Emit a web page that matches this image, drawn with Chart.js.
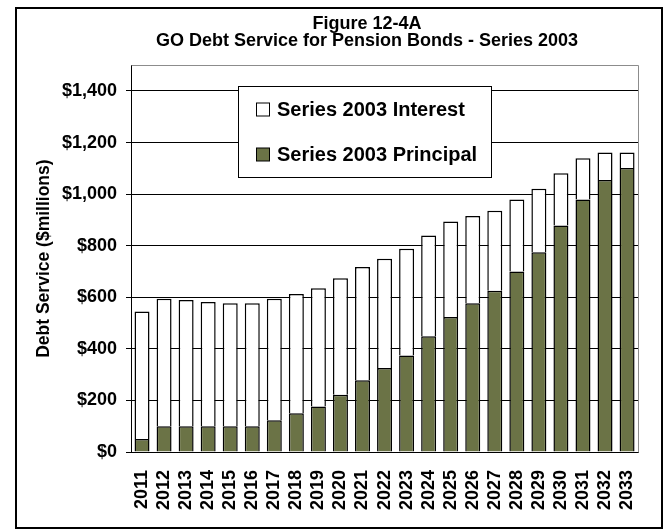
<!DOCTYPE html>
<html>
<head>
<meta charset="utf-8">
<script src="https://cdn.jsdelivr.net/npm/chart.js@4/dist/chart.umd.min.js"></script>
<style>
  html, body { margin: 0; padding: 0; background: #fff; }
  #wrap { width: 667px; height: 529px; position: relative; }
</style>
</head>
<body>
<div id="wrap"><canvas id="c" width="667" height="529"></canvas></div>
<script>
const years = ['2011','2012','2013','2014','2015','2016','2017','2018','2019','2020','2021','2022','2023','2024','2025','2026','2027','2028','2029','2030','2031','2032','2033'];
const principal = [50,100,100,100,100,100,123,150,176,222,278,326,374,449,524,577,625,700,775,878,979,1055,1101];
const interest = [495,494,489,482,477,477,471,463,459,452,439,423,414,391,370,338,311,279,246,203,160,106,60];
const yTickLabels = ['$0','$200','$400','$600','$800','$1,000','$1,200','$1,400'];
const titleLines = ['Figure 12-4A', 'GO Debt Service for Pension Bonds - Series 2003'];
const yAxisTitle = 'Debt Service ($millions)';
const seriesNames = ['Series 2003 Principal', 'Series 2003 Interest'];

const FONT = "'Liberation Sans', Arial, sans-serif";
const OLIVE = '#6b7346';

const framePlugin = {
  id: 'frame',
  beforeDraw(chart) {
    const ctx = chart.ctx;
    ctx.save();
    ctx.fillStyle = '#fff';
    ctx.fillRect(0, 0, chart.width, chart.height);
    ctx.restore();
  },
  afterLayout(chart) {
    const t = chart.titleBlock;
    if (t) { t.left = 72; t.right = 662; t.width = t.right - t.left; }
  },
  beforeDatasetsDraw(chart) {
    const ctx = chart.ctx, a = chart.chartArea;
    ctx.save();
    ctx.strokeStyle = '#8c8c8c';
    ctx.lineWidth = 1;
    ctx.beginPath();
    ctx.moveTo(Math.round(a.left) + 0.5, Math.round(a.top) + 0.5);
    ctx.lineTo(Math.round(a.right) + 0.5, Math.round(a.top) + 0.5);
    ctx.lineTo(Math.round(a.right) + 0.5, Math.round(a.bottom) + 0.5);
    ctx.stroke();
    ctx.restore();
  },
  afterDraw(chart) {
    const ctx = chart.ctx;
    ctx.save();
    // outer chart border
    ctx.strokeStyle = '#000';
    ctx.lineWidth = 2;
    ctx.strokeRect(16, 8, 646, 520);
    // legend box
    const lx = 238.5, ly = 86.5, lw = 253, lh = 91;
    ctx.fillStyle = '#fff';
    ctx.fillRect(lx, ly, lw, lh);
    ctx.lineWidth = 1;
    ctx.strokeRect(lx, ly, lw, lh);
    const ds = chart.data.datasets;
    const items = [ds[1], ds[0]];
    const rows = [109.5, 154.5];
    ctx.font = "bold 20px " + FONT;
    ctx.textBaseline = 'middle';
    ctx.textAlign = 'left';
    items.forEach((d, i) => {
      const cy = rows[i];
      ctx.fillStyle = d.backgroundColor;
      ctx.fillRect(256.5, cy - 6.5, 13, 13);
      ctx.strokeStyle = '#000';
      ctx.lineWidth = 1;
      ctx.strokeRect(256.5, cy - 6.5, 13, 13);
      ctx.fillStyle = '#000';
      ctx.fillText(d.label, 277, cy + 1);
    });
    ctx.restore();
  }
};

new Chart(document.getElementById('c'), {
  type: 'bar',
  data: {
    labels: years,
    datasets: [
      { label: seriesNames[0], data: principal, backgroundColor: OLIVE, borderColor: '#000', borderWidth: 1.5, barPercentage: 0.68, categoryPercentage: 1.0 },
      { label: seriesNames[1], data: interest, backgroundColor: '#ffffff', borderColor: '#000', borderWidth: 1.5, barPercentage: 0.68, categoryPercentage: 1.0 }
    ]
  },
  options: {
    responsive: false,
    animation: false,
    devicePixelRatio: 1,
    layout: { padding: { left: 0, right: 15, top: 0, bottom: 0 } },
    plugins: {
      legend: { display: false },
      tooltip: { enabled: false },
      title: {
        display: true,
        text: titleLines,
        color: '#000',
        font: { family: FONT, size: 18, weight: 'bold', lineHeight: 0.95 },
        padding: { top: 15.5, bottom: 15.5 }
      }
    },
    scales: {
      x: {
        stacked: true,
        grid: { display: false, drawTicks: false },
        border: { display: true, color: '#000', width: 1 },
        ticks: {
          color: '#000', minRotation: 90, maxRotation: 90, autoSkip: false, padding: 18,
          font: { family: FONT, size: 18, weight: 'bold' }
        },
        afterFit(scale) { scale.height = 77; }
      },
      y: {
        stacked: true,
        min: 0, max: 1500,
        grid: { color: '#000', lineWidth: 1, tickLength: 5, drawTicks: true },
        border: { display: true, color: '#000', width: 1 },
        ticks: {
          stepSize: 200, includeBounds: false, color: '#000', padding: 9,
          font: { family: FONT, size: 18, weight: 'bold' },
          callback: (v) => yTickLabels[Math.round(v / 200)]
        },
        title: {
          display: true, text: yAxisTitle, color: '#000',
          font: { family: FONT, size: 17.5, weight: 'bold' },
          padding: { top: 34, bottom: 0 }
        },
        afterFit(scale) { scale.width = 131; }
      }
    }
  },
  plugins: [framePlugin]
});
</script>
</body>
</html>
